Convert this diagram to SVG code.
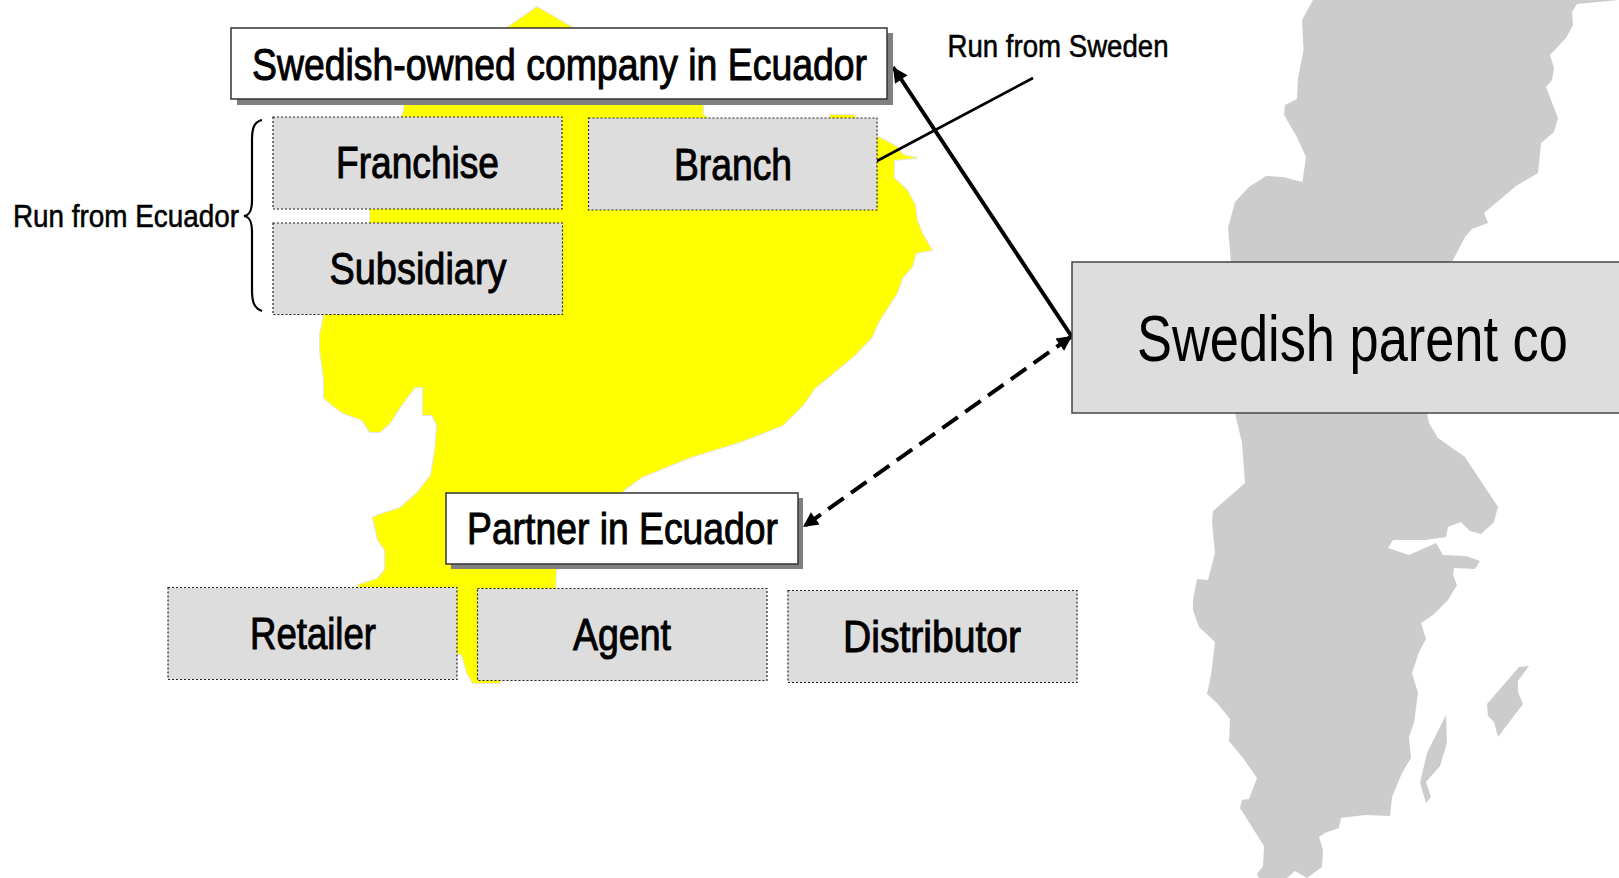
<svg xmlns="http://www.w3.org/2000/svg" width="1619" height="878" viewBox="0 0 1619 878">
<style>
text{font-family:"Liberation Sans Narrow","Liberation Sans",Arial,sans-serif;fill:#000;font-weight:400;stroke:#000;stroke-width:1px}
.l{font-size:44px}
.s{font-size:31px;stroke-width:.55px}
text.big{font-family:"Liberation Sans",Arial,sans-serif;font-size:65px;stroke:none}
.g{fill:#ddd;stroke:#222;stroke-width:1.2;stroke-dasharray:2 2}
.w{fill:#fff;stroke:#333;stroke-width:1.5}
.sh{fill:#808080}
.map{fill:#ccc}
.c{fill:none;stroke:#000}
</style>
<defs>
<marker id="b" viewBox="0 0 10 10" refX="10" refY="5" markerWidth="17" markerHeight="15" orient="auto-start-reverse" markerUnits="userSpaceOnUse"><path d="M0 0L10 5L0 10z" fill="#000"/></marker>
</defs>
<g id="maps">
<path id="ecuador" fill="#ff0" stroke="#e6e6e6" stroke-width="2" paint-order="stroke" d="M537 7L568 25L703 100L703 115L720 125L830 125L830 115L854 115L860 125L878 137L888 142L897 147L903 155L917 158L894 160L894 178L907 190L915 205L917 220L923 235L932 250L916 253L912 267L903 277L897 293L888 307L878 323L872 337L855 355L837 370L815 388L803 405L783 425L763 433L740 442L691 457L642 477L624 490L600 520L556 570L555 590L520 660L499 683L473 683L467 673L462 655L457 653L457 590L358 587L358 585L377 579L385 570L385 550L378 540L373 518L378 515L400 508L417 493L431 475L435 450L437 425L432 415L423 415L423 387L415 387L400 407L390 423L380 432L370 432L362 420L343 413L332 405L324 398L324 380L320 350L320 335L324 315L340 300L370 223L370 209L404 110L404 100L511 25z"/>
<path id="sweden" class="map" d="M1313 0L1302 20L1303.5 50L1298 78L1297 99L1285 105L1284 115L1297 137L1306 157L1302.4 182L1283 177L1266 176L1249 187L1235 202L1228 228L1231 262L1235 413L1242 443L1245 483L1213 511L1212 522L1215 553L1208 580L1197 579L1193 600L1193 610L1199 627L1215 642L1211 675L1207 694L1217 703L1230 719L1229 741L1243 758L1257 778L1249 799L1242 800L1240 808L1264 846L1263 866L1257 874L1259 878L1287 878L1295 871L1307 878L1322 867L1323 850L1319 837L1325 833L1339 828L1341 818L1365 815L1390 816L1392 797L1402 773L1411 758L1409 737L1414 723L1418 693L1412 673L1419 652L1426 639L1421 623L1433 615L1448 600L1457 585L1453 575L1454 568L1475 569L1480 561L1466 556L1443 555L1436 543L1409 555L1388 548L1393 540L1425 540L1446 537L1448 527L1461 522L1470 531L1481 534L1494 522L1498 507L1465 457L1438 438L1429 423L1427 413L1452 262L1465 237L1472 229L1488 223L1484 213L1516 186L1538 173L1541 143L1554 132L1558 118L1546 87L1552 80L1554 68L1550 55L1566 38L1573 25L1572 12L1577 4L1619 0z"/>
<path class="map" d="M1519 667L1529 666L1518 681L1518 692L1523 704L1498 737L1494 722L1488 716L1487 704z"/>
<path class="map" d="M1446 715L1447 743L1440 766L1426 782L1431 797L1426 803L1420 783L1427 753z"/>
</g>
<g id="connectors">
<path class="c" stroke-width="2.600" d="M1033 78L875 162"/>
<path class="c" stroke-width="4" marker-end="url(#b)" d="M1072 337L893 67"/>
<path class="c" stroke-width="4" stroke-dasharray="19 9" marker-start="url(#b)" marker-end="url(#b)" d="M1072 336L803 527"/>
<path class="c" stroke-width="2.200" d="M262 120C254 122 252 128 252 140L252 200C252 210 250 215 244 216C250 217 252 222 252 232L252 290C252 302 254 308 262 311"/>
</g>
<g id="n-top"><rect class="sh" x="237" y="33" width="656" height="72"/><rect class="w" x="231" y="28" width="656" height="71"/><text class="l" x="252" y="79.500" textLength="615" lengthAdjust="spacingAndGlyphs">Swedish-owned company in Ecuador</text></g>
<g id="n-franchise"><rect class="g" x="273" y="117" width="289" height="92"/><text class="l" x="336" y="178" textLength="163" lengthAdjust="spacingAndGlyphs">Franchise</text></g>
<g id="n-branch"><rect class="g" x="588.500" y="118" width="288.500" height="92"/><text class="l" x="674" y="179.500" textLength="118" lengthAdjust="spacingAndGlyphs">Branch</text></g>
<g id="n-subsidiary"><rect class="g" x="273" y="223" width="289.500" height="91.500"/><text class="l" x="329.500" y="284" textLength="177" lengthAdjust="spacingAndGlyphs">Subsidiary</text></g>
<g id="n-parent"><rect x="1072" y="262" width="548" height="151" fill="#ddd" stroke="#444" stroke-width="1.500"/><text class="big" transform="translate(1137 361) scale(.806 1)">Swedish parent co</text></g>
<g id="n-partner"><rect class="sh" x="451" y="498" width="352" height="71"/><rect class="w" x="446" y="493" width="352" height="71"/><text class="l" x="467" y="544" textLength="311" lengthAdjust="spacingAndGlyphs">Partner in Ecuador</text></g>
<g id="n-retailer"><rect class="g" x="168" y="587.500" width="289" height="92"/><text class="l" x="250" y="649" textLength="126" lengthAdjust="spacingAndGlyphs">Retailer</text></g>
<g id="n-agent"><rect class="g" x="477.500" y="588.500" width="289.500" height="92"/><text class="l" x="573" y="650" textLength="98" lengthAdjust="spacingAndGlyphs">Agent</text></g>
<g id="n-distributor"><rect class="g" x="788" y="590.500" width="289" height="92"/><text class="l" x="843" y="652" textLength="178" lengthAdjust="spacingAndGlyphs">Distributor</text></g>
<g id="labels"><text class="s" x="13" y="227" textLength="226" lengthAdjust="spacingAndGlyphs">Run from Ecuador</text><text class="s" x="947.500" y="57" textLength="221" lengthAdjust="spacingAndGlyphs">Run from Sweden</text></g>
</svg>
